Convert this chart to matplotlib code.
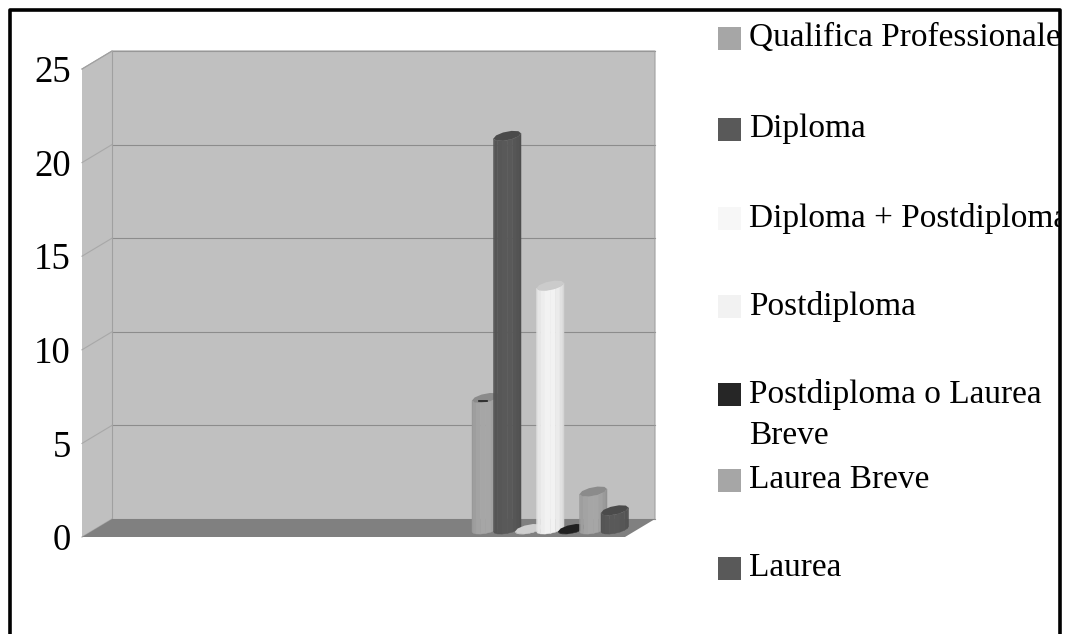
import numpy as np
import matplotlib
matplotlib.use("Agg")
import matplotlib.pyplot as plt
from matplotlib.lines import Line2D
from matplotlib.patches import Rectangle

plt.rcParams['font.family'] = ['Liberation Serif', 'DejaVu Serif']

# data
series = ["Qualifica Professionale", "Diploma", "Diploma + Postdiploma", "Postdiploma",
          "Postdiploma o Laurea\nBreve", "Laurea Breve", "Laurea"]
values = [7, 21, 0, 13, 0, 2, 1]
colors = ["#a6a6a6", "#595959", "#f7f7f7", "#f2f2f2", "#262626", "#a6a6a6", "#595959"]
y_ticks = [0, 5, 10, 15, 20, 25]
legend_y = [38, 129, 218, 306, 394, 480, 568]

W, H = 1076, 634
fig = plt.figure(figsize=(W / 100, H / 100), dpi=100)
fig.patch.set_facecolor("white")

# front plane of the fake 3d box, pixels
left, right, y0_px, y25_px = 82, 625, 537, 69
ax = fig.add_axes([left / W, 1 - y0_px / H, (right - left) / W, (y0_px - y25_px) / H])
ax.patch.set_visible(False)
for s in ax.spines.values():
    s.set_visible(False)

step = 21.5  # px per bar slot
ax.set_xlim(-(472 - left) / step, (right - 472) / step)
ax.set_ylim(0, 25)
ax.set_xticks([])
ax.set_yticks(y_ticks)
ax.tick_params(axis="y", length=0, pad=8, labelsize=26.5)

px_y = (y0_px - y25_px) / 25
x_lo, x_hi = ax.get_xlim()
dx = 30 / step
dy = 18 / px_y

# walls and floor
ax.fill([x_lo + dx, x_hi + dx, x_hi + dx, x_lo + dx], [dy, dy, 25 + dy, 25 + dy],
        color="#c0c0c0", lw=0, clip_on=False, zorder=1)
ax.fill([x_lo, x_lo + dx, x_lo + dx, x_lo], [0, dy, 25 + dy, 25],
        color="#c0c0c0", lw=0, clip_on=False, zorder=1)
ax.fill([x_lo, x_hi, x_hi + dx, x_lo + dx], [0, 0, dy, dy],
        color="#808080", lw=0, clip_on=False, zorder=2)
for t in y_ticks:
    ax.plot([x_lo + dx, x_hi + dx], [t + dy, t + dy], color="#8c8c8c", lw=0.8, clip_on=False, zorder=1.5)
    ax.plot([x_lo, x_lo + dx], [t, t + dy], color="#a8a8a8", lw=0.8, clip_on=False, zorder=1.5)
ax.plot([x_lo + dx, x_lo + dx], [dy, 25 + dy], color="#a0a0a0", lw=0.8, clip_on=False, zorder=1.5)
ax.plot([x_hi + dx, x_hi + dx, x_lo + dx, x_lo], [dy, 25 + dy, 25 + dy, 25],
        color="#a0a0a0", lw=0.8, clip_on=False, zorder=1.5)


def darker(col, f):
    rgb = np.array(matplotlib.colors.to_rgb(col)) * f
    return tuple(rgb)


# slanted elliptical section of a bar, faceted like the original
bar_w = 1.28
a = bar_w / 2
b = 4.4 / px_y
k = 2.6 / px_y
base = 8.0 / px_y
shades = [0.92, 0.95, 0.98, 1.0, 1.0, 0.97, 0.93, 0.88]
angles = np.linspace(np.pi, 2 * np.pi, len(shades) + 1)
ring = np.linspace(0, 2 * np.pi, 11)

for i, v in enumerate(values):
    cx = i + a
    ex = lambda t: cx + a * np.cos(t)
    ey = lambda t: base + b * np.sin(t) + k * np.cos(t)
    z = 5 + i
    for j, sh in enumerate(shades):
        t1, t2 = angles[j], angles[j + 1]
        ax.fill([ex(t1), ex(t2), ex(t2), ex(t1)],
                [ey(t1), ey(t2), ey(t2) + v, ey(t1) + v],
                color=darker(colors[i], sh), lw=0.3, clip_on=False, zorder=z)
    ax.fill(ex(ring), ey(ring) + v, color=darker(colors[i], 0.84), lw=0, clip_on=False, zorder=z + 0.5)

# small dark dash on top of the first bar
ax.plot([0.33, 0.72], [values[0] + base - b * 0.7] * 2, color="#222222", lw=1.2, zorder=5.7)

# legend, own axes so the long label is cut at the frame
lax = fig.add_axes([0, 0, 1059 / W, 1])
lax.set_xlim(0, 1059)
lax.set_ylim(H, 0)
lax.axis("off")
lax.patch.set_visible(False)
fs = 24.0
for name, col, y in zip(series, colors, legend_y):
    lax.add_patch(Rectangle((718, y - 11.5), 23, 23, color=col, lw=0))
    first = name.split("\n")[0]
    lax.text(749, y, first, fontsize=fs, va="center", ha="left", clip_on=True)
    if "\n" in name:
        lax.text(749, y + 42, name.split("\n")[1], fontsize=fs, va="center", ha="left", clip_on=True)

# outer frame, open at the bottom
frame = dict(color="black", lw=2.6, transform=fig.transFigure)
x1, x2, yt = 10 / W, 1060 / W, 1 - 10 / H
fig.add_artist(Line2D([x1, x1, x2, x2], [0, yt, yt, 0], **frame))

fig.savefig("out.png", dpi=100)
